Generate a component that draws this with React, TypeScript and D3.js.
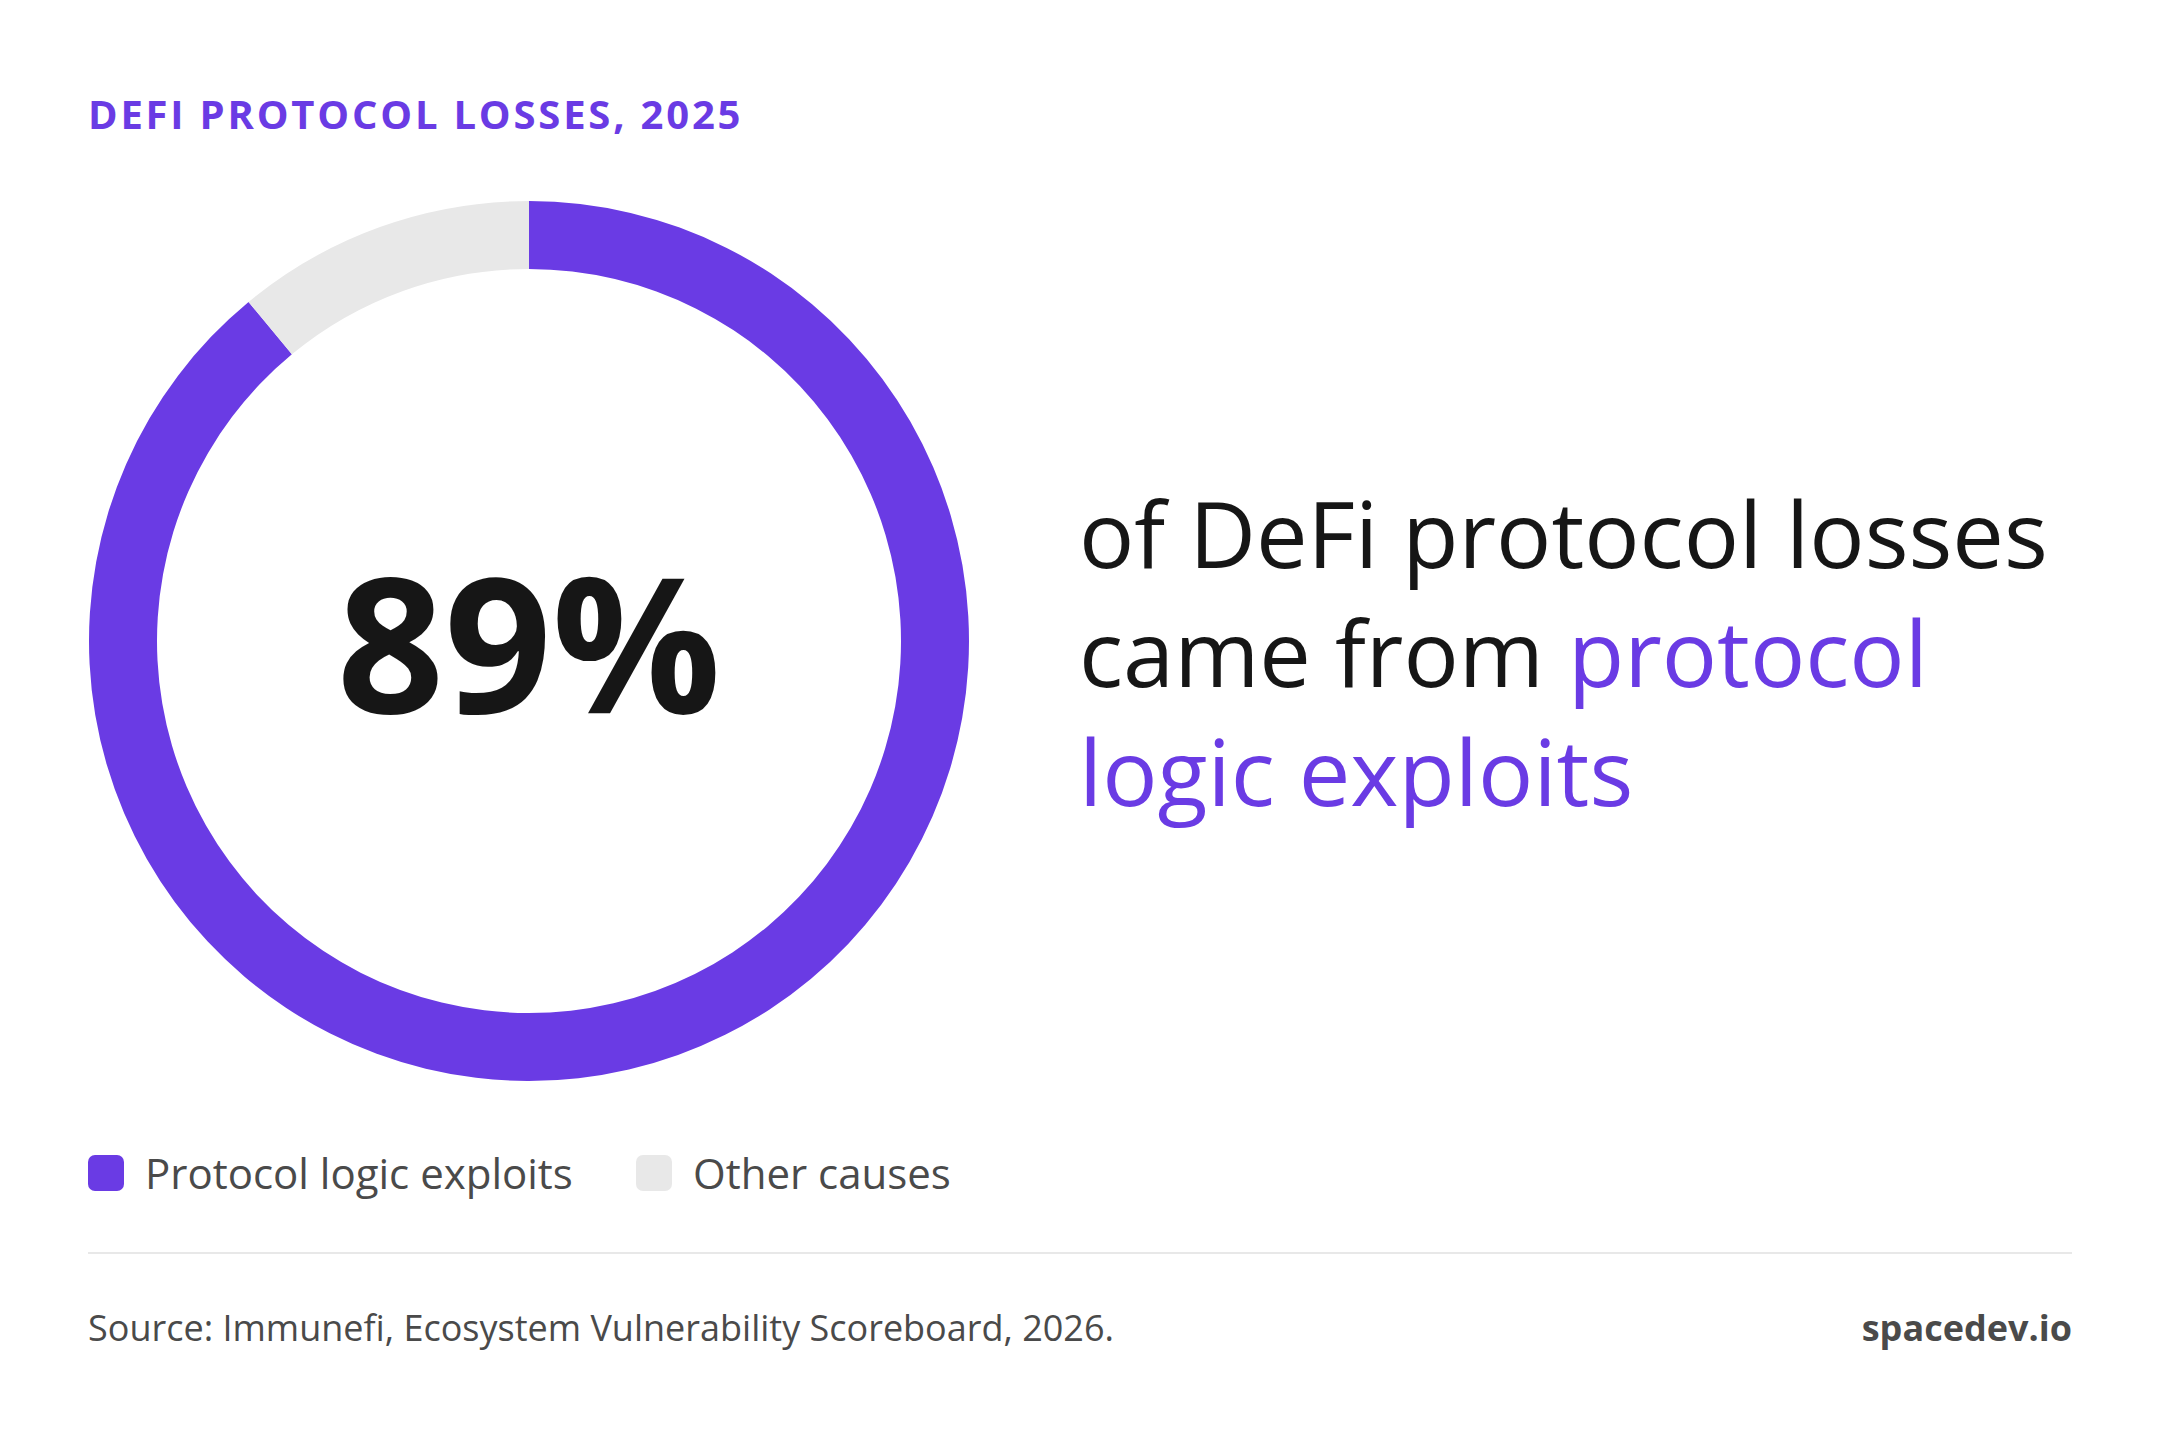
import React, { useEffect } from 'react';
import * as d3 from 'd3';

// chart data
const categories = ['Protocol logic exploits', 'Other causes'];
const shares = [89, 11];
const sliceColors = ['#6a3be4', '#e8e8e8'];

const title = 'DEFI PROTOCOL LOSSES, 2025';
const headline = ['of DeFi protocol losses', 'came from '];
const highlight = ['protocol', 'logic exploits'];
const source = 'Source: Immunefi, Ecosystem Vulnerability Scoreboard, 2026.';
const brand = 'spacedev.io';

const W = 2160;
const H = 1440;
const PURPLE = '#6a3be4';
const INK = '#161616';
const GREY_TEXT = '#4a4a4a';
const FONT = '"Open Sans", "Noto Sans", sans-serif';

export default function App() {
  useEffect(() => {
    document.body.style.margin = '0';
  }, []);

  const cx = 529;
  const cy = 641;
  const outerR = 440;
  const innerR = 372;

  const pie = d3.pie<number>().sort(null).value(d => d).startAngle(0).endAngle(2 * Math.PI);
  const arcs = pie(shares);
  const arc = d3.arc<d3.PieArcDatum<number>>().innerRadius(innerR).outerRadius(outerR);

  // legend layout
  const legendX = d3.scaleOrdinal<string, number>().domain(categories).range([88, 636]);
  const legendY = 1155;
  const sw = 36;

  const lineH = 119;
  const textX = 1079;
  const textY = 568;

  return (
    <svg width={W} height={H} viewBox={`0 0 ${W} ${H}`} style={{ display: 'block', background: '#fff' }} fontFamily={FONT}>
      <rect width={W} height={H} fill="#fff" />

      <text x={88} y={129} fill={PURPLE} fontSize={40} fontWeight={700} letterSpacing={2.8}>
        {title}
      </text>

      <g transform={`translate(${cx},${cy})`}>
        {arcs.map((a, i) => (
          <path key={i} d={arc(a) || ''} fill={sliceColors[i]} />
        ))}
        <text x={0} y={72} textAnchor="middle" fill={INK} fontSize={188} fontWeight={700}>
          {`${shares[0]}%`}
        </text>
      </g>

      <text x={textX} y={textY} fill={INK} fontSize={92}>
        {headline[0]}
      </text>
      <text x={textX} y={textY + lineH} fill={INK} fontSize={92}>
        {headline[1]}
        <tspan fill={PURPLE}>{highlight[0]}</tspan>
      </text>
      <text x={textX} y={textY + 2 * lineH} fill={PURPLE} fontSize={92}>
        {highlight[1]}
      </text>

      {categories.map((c, i) => (
        <g key={c} transform={`translate(${legendX(c)},${legendY})`}>
          <rect width={sw} height={sw} rx={7} fill={sliceColors[i]} />
          <text x={sw + 21} y={34} fill={GREY_TEXT} fontSize={42}>
            {c}
          </text>
        </g>
      ))}

      <line x1={88} x2={2072} y1={1253} y2={1253} stroke="#e8e8e8" strokeWidth={2} />

      <text x={88} y={1341} fill={GREY_TEXT} fontSize={36}>
        {source}
      </text>
      <text x={2072} y={1341} textAnchor="end" fill={GREY_TEXT} fontSize={36} fontWeight={700}>
        {brand}
      </text>
    </svg>
  );
}
